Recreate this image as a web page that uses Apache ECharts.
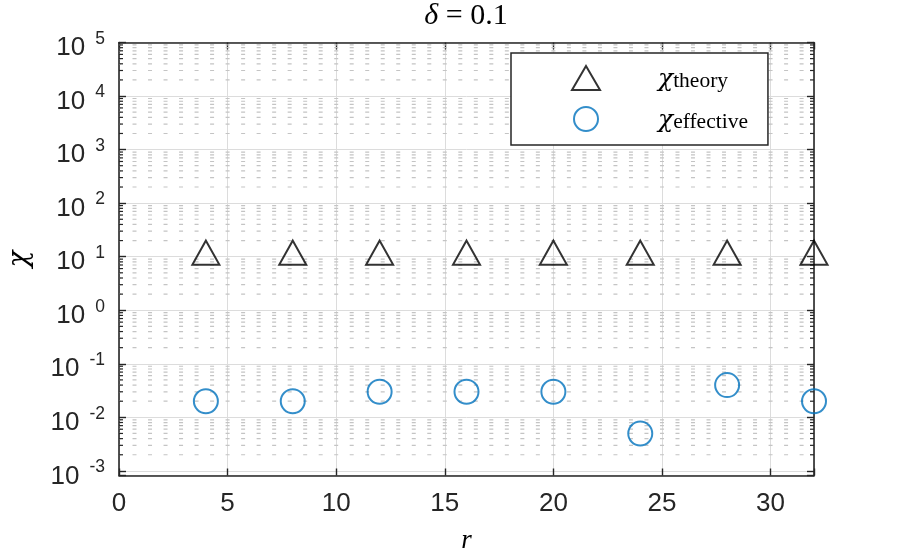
<!DOCTYPE html>
<html>
<head>
<meta charset="utf-8">
<script src="https://cdn.jsdelivr.net/npm/echarts@6/dist/echarts.min.js"></script>
<style>
  html, body { margin: 0; padding: 0; background: #fff; }
  #chart { width: 900px; height: 558px; }
</style>
</head>
<body>
<div id="chart"></div>
<script>
// data
const rValues = [4, 8, 12, 16, 20, 24, 28, 32];
const chiTheory = [10, 10, 10, 10, 10, 10, 10, 10];
const chiEffective = [0.02, 0.02, 0.03, 0.03, 0.03, 0.005, 0.04, 0.02];

// axis ticks
const xTicks = [0, 5, 10, 15, 20, 25, 30];
const yDecades = [-3, -2, -1, 0, 1, 2, 3, 4, 5];
const minorMantissas = [2, 3, 4, 5, 6, 7, 8, 9];

const axisColor = '#262626';
const sans = '"Liberation Sans", Arial, Helvetica, sans-serif';
const serif = '"Liberation Serif", "Times New Roman", serif';
const greek = '"DejaVu Serif", serif';

// minor log gridlines (2..9 x 10^k)
const minorRows = [];
yDecades.slice(0, -1).forEach(function (d) {
  minorMantissas.forEach(function (m) {
    minorRows.push([0, m * Math.pow(10, d)]);
  });
});

function yLabel(v) {
  const lg = Math.log10(v);
  const e = Math.round(lg);
  if (Math.abs(lg - e) > 0.01) return '';
  return '{b|10}{e|' + e + '}';
}

function renderMinor(params, api) {
  const v = api.value(1);
  const y = api.coord([0, v])[1];
  const cs = params.coordSys;
  const x0 = cs.x, x1 = cs.x + cs.width;
  const period = (api.coord([5, v])[0] - api.coord([0, v])[0]) / 7;
  return {
    type: 'group',
    children: [
      { type: 'line', shape: { x1: x0, y1: y, x2: x1, y2: y },
        style: { stroke: '#c4c4c4', lineWidth: 1.2, lineDash: [4, period - 4], lineDashOffset: 2 } },
      { type: 'line', shape: { x1: x0, y1: y, x2: x0 + 4, y2: y },
        style: { stroke: axisColor, lineWidth: 1.2 } },
      { type: 'line', shape: { x1: x1 - 4, y1: y, x2: x1, y2: y },
        style: { stroke: axisColor, lineWidth: 1.2 } }
    ]
  };
}

const chart = echarts.init(document.getElementById('chart'));

const yLog = {
  type: 'log',
  logBase: 10,
  min: 0.00082,
  max: 100000,
  splitNumber: 8
};

chart.setOption({
  animation: false,
  backgroundColor: '#fff',
  grid: { left: 119, right: 86, top: 42.5, bottom: 82.5, outerBoundsMode: 'none' },
  graphic: [{
    type: 'text',
    x: 466,
    y: 16,
    style: {
      text: '{d|δ}{t| = 0.1}',
      textAlign: 'center',
      textVerticalAlign: 'middle',
      rich: {
        d: { fontFamily: serif, fontStyle: 'italic', fontSize: 30, fill: '#000' },
        t: { fontFamily: serif, fontSize: 30, fill: '#000' }
      }
    }
  }],
  legend: {
    orient: 'vertical',
    left: 511,
    top: 53,
    padding: [12, 20, 12, 60],
    itemGap: 14,
    itemWidth: 28,
    itemHeight: 24,
    backgroundColor: '#fff',
    borderColor: axisColor,
    borderWidth: 1.5,
    borderRadius: 0,
    data: [
      { name: 'theory', icon: 'triangle',
        itemStyle: { color: 'transparent', borderColor: '#000', borderWidth: 2 } },
      { name: 'effective', icon: 'circle',
        itemStyle: { color: 'transparent', borderColor: '#0072BD', borderWidth: 2 } }
    ],
    formatter: function (name) { return '{chi|χ}{sub|' + name + '}'; },
    textStyle: {
      rich: {
        chi: { fontFamily: greek, fontStyle: 'italic', fontSize: 25, color: '#000',
               padding: [0, 0, 0, 53], verticalAlign: 'bottom', lineHeight: 28 },
        sub: { fontFamily: serif, fontSize: 21.5, color: '#000',
               verticalAlign: 'bottom', lineHeight: 24 }
      }
    }
  },
  xAxis: [{
    type: 'value',
    min: 0,
    max: 32,
    interval: 5,
    name: 'r',
    nameLocation: 'middle',
    nameGap: 52,
    nameTextStyle: { fontFamily: serif, fontStyle: 'italic', fontSize: 27, color: '#000' },
    axisLine: { show: true, onZero: false, lineStyle: { color: axisColor, width: 1.6 } },
    axisTick: { show: true, inside: true, length: 7, lineStyle: { color: axisColor, width: 1.4 } },
    axisLabel: {
      margin: 15,
      fontFamily: sans, fontSize: 26, color: axisColor,
      formatter: function (v) { return xTicks.includes(v) ? String(v) : ''; }
    },
    splitLine: { show: true, lineStyle: { color: '#dcdcdc', width: 1 } }
  }, {
    type: 'value',
    position: 'top',
    min: 0,
    max: 32,
    interval: 5,
    axisLine: { show: true, onZero: false, lineStyle: { color: axisColor, width: 1.6 } },
    axisTick: { show: true, inside: true, length: 7, lineStyle: { color: axisColor, width: 1.4 } },
    axisLabel: { show: false },
    splitLine: { show: false }
  }],
  yAxis: [Object.assign({}, yLog, {
    name: 'χ',
    nameLocation: 'middle',
    nameGap: 85,
    nameTextStyle: { fontFamily: greek, fontStyle: 'italic', fontSize: 28, color: '#000' },
    axisLine: { show: true, onZero: false, lineStyle: { color: axisColor, width: 1.6 } },
    axisTick: { show: true, inside: true, length: 7, lineStyle: { color: axisColor, width: 1.4 } },
    axisLabel: {
      margin: 14,
      formatter: yLabel,
      padding: [6, 0, 0, 0],
      rich: {
        b: { fontFamily: sans, fontSize: 26, color: axisColor, lineHeight: 31, verticalAlign: 'bottom' },
        e: { fontFamily: sans, fontSize: 17.5, color: axisColor, lineHeight: 18, verticalAlign: 'top',
             padding: [0, 0, 0, 10] }
      }
    },
    splitLine: { show: true, lineStyle: { color: '#dcdcdc', width: 1 } },
    minorTick: { show: false },
    minorSplitLine: { show: false }
  }), Object.assign({}, yLog, {
    position: 'right',
    axisLine: { show: true, onZero: false, lineStyle: { color: axisColor, width: 1.6 } },
    axisTick: { show: true, inside: true, length: 7, lineStyle: { color: axisColor, width: 1.4 } },
    axisLabel: { show: false },
    splitLine: { show: false }
  })],
  series: [{
    type: 'custom',
    name: 'minor',
    silent: true,
    z: 1,
    xAxisIndex: 0,
    yAxisIndex: 0,
    renderItem: renderMinor,
    encode: { x: 0, y: 1 },
    data: minorRows
  }, {
    type: 'scatter',
    name: 'theory',
    z: 5,
    symbol: 'triangle',
    symbolSize: [27, 24],
    symbolOffset: [0, -4],
    itemStyle: { color: 'transparent', borderColor: '#000', borderWidth: 2 },
    data: rValues.map(function (r, i) { return [r, chiTheory[i]]; })
  }, {
    type: 'scatter',
    name: 'effective',
    z: 5,
    symbol: 'circle',
    symbolSize: 24,
    itemStyle: { color: 'transparent', borderColor: '#0072BD', borderWidth: 2 },
    data: rValues.map(function (r, i) { return [r, chiEffective[i]]; })
  }]
});
</script>
</body>
</html>
